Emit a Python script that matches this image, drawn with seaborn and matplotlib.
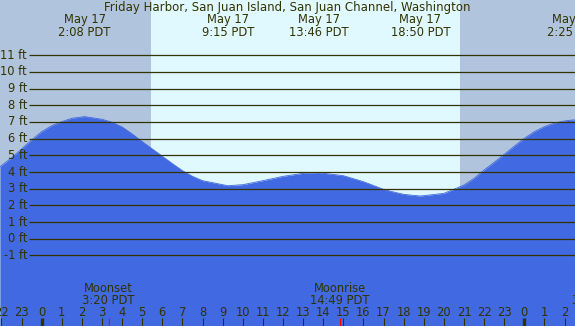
import numpy as np
import pandas as pd
import seaborn as sns
import matplotlib
matplotlib.use("Agg")
import matplotlib.pyplot as plt

# tide height (ft), hours from May 17 00:00 PDT
hours = [-2.07, -1.5, -1, -0.5, 0, 0.5, 1, 1.5, 2.13, 3, 3.5, 4, 4.5, 5, 5.5,
         6, 6.5, 7, 7.5, 8, 9.25, 10, 11, 12, 13, 13.77, 15, 16, 16.5, 17,
         17.5, 18, 18.83, 20, 21, 21.5, 22, 22.5, 23, 23.5, 24, 24.5, 25,
         25.5, 26, 26.42, 26.52]
heights = [4.32, 4.85, 5.38, 5.92, 6.42, 6.78, 7.02, 7.22, 7.32, 7.16, 6.98,
           6.70, 6.28, 5.82, 5.38, 4.94, 4.50, 4.08, 3.74, 3.48, 3.18, 3.24,
           3.48, 3.74, 3.92, 3.96, 3.78, 3.42, 3.19, 2.96, 2.80, 2.66, 2.56,
           2.72, 3.22, 3.62, 4.12, 4.58, 5.06, 5.55, 6.02, 6.42, 6.72, 6.93,
           7.06, 7.12, 7.12]

# high / low tide labels
extreme_hours = [2.13, 9.25, 13.77, 18.83, 26.42]
extreme_dates = ["May 17", "May 17", "May 17", "May 17", "May 18"]
extreme_times = ["2:08 PDT", "9:15 PDT", "13:46 PDT", "18:50 PDT", "2:25 PDT"]

# moon events
moon_hours = [3.33, 14.82, 27.7]
moon_names = ["Moonset", "Moonrise", "Moonset"]
moon_times = ["3:20 PDT", "14:49 PDT", "3:42 PDT"]

sunrise, sunset = 5.42, 20.81
levels = list(range(-1, 12))
tick_hours = list(range(-2, 27))

title = "Friday Harbor, San Juan Island, San Juan Channel, Washington"

night = "#B0C4DE"
day = "#E0F8FF"
water = "#4169E1"
ink = "#333300"

W, H = 575, 326
fig = plt.figure(figsize=(W / 100, H / 100), dpi=100)
ax = fig.add_axes([0, 0, 1, 1])
xmin, xmax = -2.074, 26.52
ymin, ymax = -5.23, 14.31
ax.set_xlim(xmin, xmax)
ax.set_ylim(ymin, ymax)
ax.axis("off")

# day / night background
ax.axvspan(xmin, sunrise, color=night, zorder=0, lw=0)
ax.axvspan(sunrise, sunset, color=day, zorder=0, lw=0)
ax.axvspan(sunset, xmax, color=night, zorder=0, lw=0)

df = pd.DataFrame({"hour": hours, "ft": heights})
ax.fill_between(df["hour"], df["ft"], ymin - 1, color=water, lw=0, zorder=1)
sns.lineplot(data=df, x="hour", y="ft", color=water, lw=0.6, ax=ax, zorder=1)

# gridlines + labels
ax.hlines(levels, -0.63, xmax, color=ink, lw=0.9, zorder=2)
for lv in levels:
    ax.text(-0.73, lv, f"{lv} ft", ha="right", va="center", fontsize=8.3,
            color=ink, zorder=3)

tx = ax.get_xaxis_transform()
fs = 8.3

ax.text(12.2, 1 - 11.5 / H, title, ha="center", va="baseline", fontsize=8.5,
        color=ink, transform=tx, zorder=3)
for h, d, t in zip(extreme_hours, extreme_dates, extreme_times):
    ax.text(h, 1 - 23.5 / H, d, ha="center", va="baseline", fontsize=fs,
            color=ink, transform=tx, zorder=3)
    ax.text(h, 1 - 35.8 / H, t, ha="center", va="baseline", fontsize=fs,
            color=ink, transform=tx, zorder=3)

for h, n, t in zip(moon_hours, moon_names, moon_times):
    ax.text(h, 1 - 292 / H, n, ha="center", va="baseline", fontsize=fs,
            color=ink, transform=tx, zorder=3)
    ax.text(h, 1 - 303.7 / H, t, ha="center", va="baseline", fontsize=fs,
            color=ink, transform=tx, zorder=3)
    ax.vlines(h, 0, 8 / H, color="red", lw=0.8, transform=tx, zorder=3)

# hour ticks along the bottom
for h in tick_hours:
    ax.text(h, 1 - 316 / H, str(h % 24), ha="center", va="baseline",
            fontsize=fs, color=ink, transform=tx, zorder=3)
    lw = 2.4 if h % 24 == 0 else 0.8
    ax.vlines(h, 0, 8 / H, color=ink, lw=lw, transform=tx, zorder=3)

fig.savefig("out.png", dpi=100)
